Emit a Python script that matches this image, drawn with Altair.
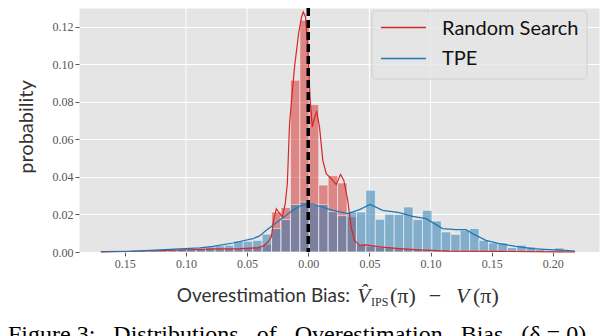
import altair as alt
import pandas as pd

# ---------------- data ----------------
X_DOMAIN = [-0.1875, 0.2378]
Y_DOMAIN = [0, 0.1301]
X_TICKS = [-0.15, -0.10, -0.05, 0.00, 0.05, 0.10, 0.15, 0.20]
Y_TICKS = [0.00, 0.02, 0.04, 0.06, 0.08, 0.10, 0.12]
GRID_X = [-0.10, -0.05, 0.00, 0.05, 0.10]

BIN_EDGES = [-0.16885, -0.16114, -0.15343, -0.14571, -0.13800, -0.13028, -0.12257,
             -0.11486, -0.10714, -0.09943, -0.09171, -0.08400, -0.07629, -0.06857,
             -0.06086, -0.05314, -0.04543, -0.03772, -0.03000, -0.02229, -0.01457,
             -0.00686, 0.00085, 0.00857, 0.01628, 0.02400, 0.03171, 0.03942,
             0.04714, 0.05485, 0.06257, 0.07028, 0.07800, 0.08571, 0.09342,
             0.10114, 0.10885, 0.11657, 0.12428, 0.13200, 0.13971, 0.14742,
             0.15514, 0.16285, 0.17057, 0.17828, 0.18600, 0.19371, 0.20142, 0.20914]

RS_HIST = [0.0002, 0.0003, 0.0003, 0.0004, 0.0005, 0.0006, 0.0008, 0.0010, 0.0012,
           0.0012, 0.0015, 0.0018, 0.0018, 0.0020, 0.0020, 0.0022, 0.0030, 0.0040,
           0.0213, 0.0237, 0.0916, 0.1236, 0.0786, 0.0357, 0.0407, 0.0368, 0.0187,
           0.0040, 0.0030, 0.0025, 0.0022, 0.0020, 0.0018, 0.0015, 0.0012, 0.0010,
           0.0008, 0.0008, 0.0006, 0.0005, 0.0004, 0.0003, 0.0003, 0.0002, 0.0002,
           0.0001, 0.0001, 0.0001, 0.0001]

TPE_HIST = [0.0001, 0.0002, 0.0002, 0.0003, 0.0005, 0.0008, 0.0012, 0.0018, 0.0018,
            0.0018, 0.0020, 0.0027, 0.0033, 0.0036, 0.0058, 0.0057, 0.0062, 0.0095,
            0.0125, 0.0173, 0.0253, 0.0267, 0.0254, 0.0253, 0.0215, 0.0194, 0.0213,
            0.0213, 0.0329, 0.0174, 0.0201, 0.0200, 0.0240, 0.0173, 0.0222, 0.0165,
            0.0107, 0.0094, 0.0116, 0.0125, 0.0062, 0.0048, 0.0048, 0.0023, 0.0036,
            0.0027, 0.0013, 0.0009, 0.0021]

RS_KDE_X = [-0.1696, -0.1459, -0.1214, -0.0969, -0.0765, -0.0561, -0.0414, -0.0365,
            -0.0332, -0.0302, -0.0283, -0.0261, -0.0242, -0.0212, -0.0188, -0.0171,
            -0.0153, -0.0112, -0.0079, -0.0055, -0.0041, -0.0022, -0.0003, 0.0016,
            0.0033, 0.0054, 0.0069, 0.0092, 0.0119, 0.0147, 0.0188, 0.0229, 0.0264,
            0.0291, 0.0323, 0.0351, 0.0378, 0.0419, 0.0473, 0.0582, 0.0745, 0.0909,
            0.1153, 0.1562, 0.2051, 0.2182]
RS_KDE_Y = [0.0002, 0.0004, 0.0007, 0.0012, 0.0017, 0.0018, 0.0022, 0.0033,
            0.0052, 0.0080, 0.0169, 0.0231, 0.0212, 0.0187, 0.0258, 0.0365,
            0.0685, 0.0987, 0.1165, 0.1253, 0.1280, 0.1253, 0.1076, 0.0809,
            0.0667, 0.0720, 0.0747, 0.0667, 0.0489, 0.0418, 0.0391, 0.0359, 0.0414,
            0.0382, 0.0276, 0.0133, 0.0062, 0.0036, 0.0038, 0.0027, 0.0018, 0.0011,
            0.0005, 0.0003, 0.0001, 0.0001]

TPE_KDE_X = [-0.1696, -0.1459, -0.1296, -0.1133, -0.1010, -0.0887, -0.0779, -0.0616,
             -0.0452, -0.0398, -0.0343, -0.0234, -0.0126, -0.0071, -0.0016, 0.0035,
             0.0092, 0.0201, 0.0323, 0.0419, 0.0506, 0.0609, 0.0745, 0.0854, 0.0963,
             0.1099, 0.1208, 0.1290, 0.1344, 0.1453, 0.1562, 0.1698, 0.1833, 0.1970,
             0.2106, 0.2182]
TPE_KDE_Y = [0.0000, 0.0003, 0.0009, 0.0014, 0.0018, 0.0022, 0.0030, 0.0048,
             0.0071, 0.0086, 0.0116, 0.0169, 0.0222, 0.0244, 0.0254, 0.0257,
             0.0244, 0.0222, 0.0205, 0.0226, 0.0254, 0.0222, 0.0210, 0.0190, 0.0178,
             0.0125, 0.0119, 0.0119, 0.0098, 0.0062, 0.0045, 0.0030, 0.0018, 0.0013,
             0.0009, 0.0005]

SERIES = ["Random Search", "TPE"]
COLORS = ["#d62728", "#1f77b4"]
CAPTION = ("Figure 3:\u00a0\u00a0 Distributions\u00a0\u00a0 of\u00a0\u00a0 Overestimation"
           "\u00a0\u00a0 Bias\u00a0\u00a0 (\u03b4 = 0)")

# ---------------- chart ----------------
xs = alt.Scale(domain=X_DOMAIN, nice=False, zero=False)
ys = alt.Scale(domain=Y_DOMAIN, nice=False, zero=False)

x_axis = alt.Axis(values=X_TICKS, grid=False, domain=False, ticks=True, tickSize=4,
                  tickColor="#555555", labelFont="Liberation Serif", labelFontSize=12,
                  labelColor="#555555", labelPadding=2, labelFlush=False,
                  labelOverlap=False, title=None,
                  labelExpr="datum.value < 0 ? '\u2002\u00a0' + format(-datum.value, '.2f') : format(datum.value, '.2f')")
y_axis = alt.Axis(values=Y_TICKS, format=".2f", grid=True, gridColor="white", gridWidth=1,
                  domain=False, ticks=True, tickSize=4, tickColor="#555555",
                  labelFont="Liberation Serif", labelFontSize=12, labelColor="#555555",
                  labelPadding=2, title=None)


def X(field):
    return alt.X(field, type="quantitative", scale=xs, axis=x_axis)


def Y(field):
    return alt.Y(field, type="quantitative", scale=ys, axis=y_axis)


rs_df = pd.DataFrame({"x0": BIN_EDGES[:-1], "x1": BIN_EDGES[1:], "h": RS_HIST})
tpe_df = pd.DataFrame({"x0": BIN_EDGES[:-1], "x1": BIN_EDGES[1:], "h": TPE_HIST})

grid = alt.Chart(pd.DataFrame({"g": GRID_X})).mark_rule(color="white", strokeWidth=1).encode(
    x=X("g"))

rs_bars = alt.Chart(rs_df).mark_rect(fill=COLORS[0], fillOpacity=0.5, stroke="white",
                                     strokeOpacity=0.5, strokeWidth=1).encode(
    x=X("x0"), x2="x1", y=Y("h"), y2=alt.datum(0))
tpe_bars = alt.Chart(tpe_df).mark_rect(fill=COLORS[1], fillOpacity=0.5, stroke="white",
                                       strokeOpacity=0.5, strokeWidth=1).encode(
    x=X("x0"), x2="x1", y=Y("h"), y2=alt.datum(0))

rs_line = alt.Chart(pd.DataFrame({"x": RS_KDE_X, "y": RS_KDE_Y})).mark_line(
    color=COLORS[0], strokeWidth=1.2).encode(x=X("x"), y=Y("y"))
tpe_line = alt.Chart(pd.DataFrame({"x": TPE_KDE_X, "y": TPE_KDE_Y})).mark_line(
    color=COLORS[1], strokeWidth=1.2).encode(x=X("x"), y=Y("y"))

zero_line = alt.Chart(pd.DataFrame({"z": [0.0]})).mark_rule(
    color="black", strokeWidth=3.5, strokeDash=[8, 4]).encode(x=X("z"))


def txt(s, x, y, **kw):
    return alt.Chart(pd.DataFrame({"t": [s]})).mark_text(**kw).encode(
        text="t:N", x=alt.value(x), y=alt.value(y))


one = pd.DataFrame({"a": [0]})
legend_box = alt.Chart(one).mark_rect(fill="#e5e5e5", fillOpacity=0.8, stroke="#cfcfcf",
                                      strokeWidth=1, cornerRadius=4).encode(
    x=alt.value(293), x2=alt.value(508), y=alt.value(3), y2=alt.value(71))
leg_rs = alt.Chart(one).mark_rule(color=COLORS[0], strokeWidth=1.3).encode(
    x=alt.value(302), x2=alt.value(347), y=alt.value(19.5))
leg_tpe = alt.Chart(one).mark_rule(color=COLORS[1], strokeWidth=1.3).encode(
    x=alt.value(302), x2=alt.value(347), y=alt.value(50.5))
leg_t1 = txt(SERIES[0], 363, 21, font="Lato", fontSize=20, color="#111111",
             align="left", baseline="middle")
leg_t2 = txt(SERIES[1], 363, 51, font="Lato", fontSize=20, color="#111111",
             align="left", baseline="middle")

ytitle = txt("probability", -52.3, 119, font="Lato", fontSize=20, color="#333333",
             angle=270, align="center", baseline="middle")

ty = 288
TC = "#333333"
xt1 = txt("Overestimation Bias:", 97.8, ty, font="Lato", fontSize=19, color=TC,
          align="left", baseline="middle")
xt2 = txt("V\u0302", 278, ty, font="Liberation Serif", fontSize=22, fontStyle="italic",
          color=TC, align="left", baseline="middle")
xt3 = txt("IPS", 292, ty + 6, font="Liberation Serif", fontSize=12, color=TC,
          align="left", baseline="middle")
xt4 = txt("(\u03c0)", 311, ty, font="Liberation Serif", fontSize=22, color=TC,
          align="left", baseline="middle")
xt5 = txt("\u2212", 356, ty, font="Liberation Serif", fontSize=22, color=TC,
          align="center", baseline="middle")
xt6 = txt("V", 377, ty, font="Liberation Serif", fontSize=22, fontStyle="italic",
          color=TC, align="left", baseline="middle")
xt7 = txt("(\u03c0)", 394, ty, font="Liberation Serif", fontSize=22, color=TC,
          align="left", baseline="middle")

caption = txt(CAPTION, -71, 334, font="Liberation Serif", fontSize=24, color="#000000",
              align="left", baseline="alphabetic")

chart = alt.layer(
    grid, rs_bars, tpe_bars, rs_line, tpe_line, zero_line,
    legend_box, leg_rs, leg_tpe, leg_t1, leg_t2,
    ytitle, xt1, xt2, xt3, xt4, xt5, xt6, xt7, caption
).properties(
    width=520, height=244,
    autosize=alt.AutoSizeParams(type="none"),
    padding={"left": 71, "top": 0, "right": 9, "bottom": 100},
).configure_view(fill="#e5e5e5", stroke="transparent")

chart.save("out.html", embed_options={"renderer": "svg", "actions": False})
